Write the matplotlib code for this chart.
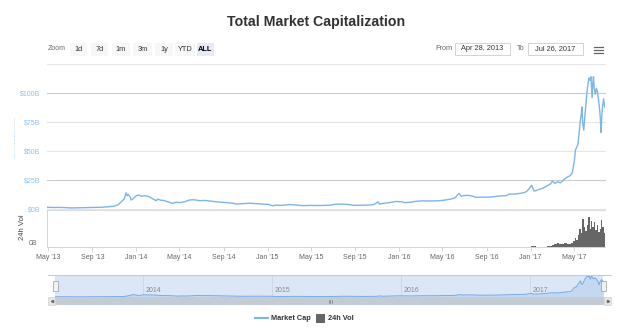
import matplotlib
matplotlib.use('Agg')
import matplotlib.pyplot as plt
import matplotlib.dates as mdates
from matplotlib.patches import Rectangle
from matplotlib.lines import Line2D
import numpy as np
import pandas as pd

plt.rcParams['font.family'] = ['Liberation Sans', 'DejaVu Sans']

# total market cap, $ billions
cap_dates = pd.to_datetime([
    '2013-04-28', '2013-05-15', '2013-06-01', '2013-06-20', '2013-07-05', '2013-07-25',
    '2013-08-15', '2013-09-05', '2013-09-25', '2013-10-15', '2013-11-01', '2013-11-12',
    '2013-11-20', '2013-11-28', '2013-12-04', '2013-12-07', '2013-12-10', '2013-12-15',
    '2013-12-18', '2013-12-22', '2013-12-27', '2014-01-02', '2014-01-08', '2014-01-15',
    '2014-01-25', '2014-02-05', '2014-02-12', '2014-02-20', '2014-02-26', '2014-03-02',
    '2014-03-10', '2014-03-20', '2014-04-01', '2014-04-12', '2014-04-22', '2014-05-02',
    '2014-05-15', '2014-05-30', '2014-06-10', '2014-06-26', '2014-07-10', '2014-08-01',
    '2014-08-18', '2014-09-09', '2014-09-25', '2014-10-06', '2014-10-20', '2014-11-12',
    '2014-12-01', '2014-12-19', '2015-01-05', '2015-01-14', '2015-01-25', '2015-02-10',
    '2015-03-03', '2015-03-20', '2015-04-08', '2015-05-01', '2015-05-16', '2015-06-05',
    '2015-06-22', '2015-07-10', '2015-07-25', '2015-08-16', '2015-08-25', '2015-09-04',
    '2015-09-25', '2015-10-11', '2015-10-25', '2015-11-04', '2015-11-08', '2015-11-20',
    '2015-12-06', '2015-12-24', '2016-01-10', '2016-01-16', '2016-02-01', '2016-02-18',
    '2016-03-05', '2016-03-17', '2016-04-13', '2016-05-01', '2016-05-24', '2016-06-05',
    '2016-06-16', '2016-06-22', '2016-06-28', '2016-07-10', '2016-07-25', '2016-08-02',
    '2016-08-15', '2016-08-30', '2016-09-20', '2016-10-06', '2016-10-25', '2016-11-02',
    '2016-11-20', '2016-12-10', '2016-12-20', '2016-12-28', '2017-01-04', '2017-01-11',
    '2017-01-18', '2017-01-25', '2017-02-05', '2017-02-16', '2017-02-25', '2017-03-03',
    '2017-03-10', '2017-03-17', '2017-03-25', '2017-04-01', '2017-04-10', '2017-04-20',
    '2017-04-27', '2017-05-03', '2017-05-06', '2017-05-10', '2017-05-13', '2017-05-16',
    '2017-05-19', '2017-05-22', '2017-05-24', '2017-05-26', '2017-05-29', '2017-06-01',
    '2017-06-04', '2017-06-07', '2017-06-10', '2017-06-12', '2017-06-15', '2017-06-18',
    '2017-06-21', '2017-06-23', '2017-06-25', '2017-06-27', '2017-06-30', '2017-07-03',
    '2017-07-06', '2017-07-09', '2017-07-12', '2017-07-14', '2017-07-16', '2017-07-18',
    '2017-07-20', '2017-07-23', '2017-07-26'])
cap_values = [
    1.55, 1.3, 1.4, 1.2, 0.9, 1.0,
    1.2, 1.4, 1.5, 1.9, 2.4, 3.8,
    6.0, 8.5, 14.0, 11.5, 12.5, 10.5,
    7.8, 8.5, 10.0, 11.5, 12.0, 11.0,
    11.5, 10.8, 9.5, 8.0, 7.2, 8.5,
    7.6, 7.2, 6.0, 4.9, 5.8, 5.5,
    6.2, 7.8, 8.0, 7.2, 7.4, 6.6,
    6.0, 5.5, 5.0, 4.3, 4.5, 5.0,
    4.6, 4.3, 3.9, 2.8, 3.3, 3.1,
    3.8, 3.5, 2.9, 3.1, 3.0, 3.1,
    3.3, 4.1, 4.3, 3.8, 3.2, 3.2,
    3.3, 3.4, 4.0, 6.2, 4.3, 4.9,
    5.5, 6.5, 6.2, 5.5, 5.8, 6.6,
    7.0, 6.9, 7.0, 7.4, 8.5, 9.5,
    13.5, 11.0, 11.5, 11.8, 11.0, 10.0,
    10.2, 10.2, 10.5, 11.2, 11.5, 12.8,
    12.9, 13.8, 14.8, 17.5, 20.5, 15.5,
    16.0, 17.0, 18.0, 20.0, 21.5, 24.0,
    22.0, 23.5, 22.5, 24.5, 27.0, 28.5,
    31.0, 42.0, 51.0, 54.0, 56.0, 66.0,
    75.0, 82.0, 88.0, 74.0, 68.0, 80.0,
    90.0, 102.0, 108.0, 113.0, 111.0, 114.0,
    96.0, 108.0, 114.0, 104.0, 99.0, 104.0,
    101.0, 94.0, 86.0, 78.0, 66.0, 80.0,
    88.0, 95.0, 88.0]

# 24h volume, $ billions
vol_dates = pd.to_datetime([
    '2013-05-01', '2013-06-01', '2013-07-01', '2013-08-01', '2013-09-01', '2013-10-01',
    '2013-11-01', '2013-12-01', '2014-01-01', '2014-02-01', '2014-03-01', '2014-04-01',
    '2014-05-01', '2014-06-01', '2014-07-01', '2014-08-01', '2014-09-01', '2014-10-01',
    '2014-11-01', '2014-12-01', '2015-01-01', '2015-02-01', '2015-03-01', '2015-04-01',
    '2015-05-01', '2015-06-01', '2015-07-01', '2015-08-01', '2015-09-01', '2015-10-01',
    '2015-11-01', '2015-12-01', '2016-01-01', '2016-02-01', '2016-03-01', '2016-04-01',
    '2016-05-01', '2016-06-01', '2016-07-01', '2016-08-01', '2016-09-01', '2016-10-01',
    '2016-11-01', '2016-12-01', '2017-01-01', '2017-01-15', '2017-02-01', '2017-02-15',
    '2017-03-01', '2017-03-08', '2017-03-15', '2017-03-22', '2017-03-29', '2017-04-05',
    '2017-04-12', '2017-04-18', '2017-04-24', '2017-04-29', '2017-05-04', '2017-05-08',
    '2017-05-12', '2017-05-16', '2017-05-20', '2017-05-24', '2017-05-29', '2017-06-02',
    '2017-06-06', '2017-06-10', '2017-06-14', '2017-06-18', '2017-06-22', '2017-06-26',
    '2017-06-30', '2017-07-04', '2017-07-08', '2017-07-12', '2017-07-16', '2017-07-20',
    '2017-07-24'])
vol_values = [
    0.02, 0.02, 0.02, 0.02, 0.02, 0.03,
    0.04, 0.08, 0.05, 0.04, 0.03, 0.03,
    0.03, 0.03, 0.02, 0.02, 0.02, 0.02,
    0.02, 0.02, 0.03, 0.02, 0.02, 0.02,
    0.02, 0.02, 0.03, 0.03, 0.02, 0.03,
    0.1, 0.05, 0.04, 0.04, 0.04, 0.04,
    0.06, 0.12, 0.08, 0.06, 0.05, 0.06,
    0.06, 0.08, 0.2, 0.12, 0.12, 0.18,
    0.6, 1.0, 1.2, 0.9, 1.1, 1.3,
    1.0, 1.1, 1.4, 2.0, 3.0, 2.3,
    4.0, 6.0, 4.5, 9.0, 6.5, 5.2,
    7.0, 9.7, 6.0, 8.5, 6.5, 8.0,
    5.5, 7.0, 5.0, 6.0, 8.7, 6.5,
    4.5]

y_ticks = [0, 25, 50, 75, 100]
y_labels = ['$0B', '$25B', '$50B', '$75B', '$100B']
zoom_buttons = ['1d', '7d', '1m', '3m', '1y', 'YTD', 'ALL']
nav_years = [2014, 2015, 2016, 2017]

W, H = 633, 331
BLUE = '#7cb5ec'


def rect(x0, y0, x1, y1):
    return [x0 / W, 1 - y1 / H, (x1 - x0) / W, (y1 - y0) / H]


def fy(y):
    return 1 - y / H


def box(x0, y0, x1, y1, **kw):
    fig.patches.append(Rectangle((x0 / W, fy(y1)), (x1 - x0) / W, (y1 - y0) / H,
                                 transform=fig.transFigure, **kw))


def hline(x0, x1, y, **kw):
    fig.lines.append(Line2D([x0 / W, x1 / W], [fy(y), fy(y)], transform=fig.transFigure, **kw))


x_start = pd.Timestamp('2013-04-28')
x_end = pd.Timestamp('2017-07-27')

fig = plt.figure(figsize=(W / 100, H / 100), dpi=100)

# title and range selector
fig.text(0.5, fy(22), 'Total Market Capitalization', ha='center', va='center',
         fontsize=10.2, color='#333333', fontweight='bold')
fig.text(48 / W, fy(49), 'Zoom', ha='left', va='center', fontsize=5, color='#666666')
btn_x = [70, 91, 112, 133, 155, 175, 197]
btn_w = [17, 17, 18, 19, 18, 20, 17]
for lbl, bx, bw in zip(zoom_buttons, btn_x, btn_w):
    sel = lbl == 'ALL'
    box(bx, 43, bx + bw, 56, facecolor='#e6ebf5' if sel else '#f7f7f7', edgecolor='none')
    fig.text((bx + bw / 2) / W, fy(49.5), lbl, ha='center', va='center', fontsize=5.3,
             color='#000000' if sel else '#333333', fontweight='bold' if sel else 'normal')
fig.text(452 / W, fy(49), 'From', ha='right', va='center', fontsize=5.3, color='#666666')
box(455, 43, 510, 55, facecolor='white', edgecolor='#cccccc', linewidth=0.6)
fig.text(482.5 / W, fy(49), 'Apr 28, 2013', ha='center', va='center', fontsize=5.3, color='#333333')
fig.text(524 / W, fy(49), 'To', ha='right', va='center', fontsize=5.3, color='#666666')
box(528, 43, 583, 55, facecolor='white', edgecolor='#cccccc', linewidth=0.6)
fig.text(555.5 / W, fy(49), 'Jul 26, 2017', ha='center', va='center', fontsize=5.3, color='#333333')
for yy in [46.5, 49.5, 52.5]:
    hline(594, 603, yy, color='#666666', linewidth=0.9)

# faint dotted mark on the far left
fig.lines.append(Line2D([14 / W, 14 / W], [fy(118), fy(158)], transform=fig.transFigure,
                        color='#a9cdef', linewidth=0.6, linestyle=':'))

# main price panel
ax = fig.add_axes(rect(47, 64, 605, 209))
for v in [0, 25, 50, 75, 100, 125]:
    c = '#cccccc' if v in (25, 100) else '#e6e6e6'
    ax.axhline(v, color=c, linewidth=0.8, zorder=0, clip_on=False)
ax.plot(cap_dates, cap_values, color=BLUE, linewidth=1.0, zorder=3)
ax.set_xlim(x_start, x_end)
ax.set_ylim(0, 125)
ax.set_xticks([])
ax.set_yticks(y_ticks)
ax.set_yticklabels(y_labels, color='#8fc0ee', fontsize=5)
ax.tick_params(axis='y', length=0, pad=5)
for s in ax.spines.values():
    s.set_visible(False)

# volume panel
axv = fig.add_axes(rect(47, 210, 605, 247))
widths = np.diff(mdates.date2num(vol_dates)).tolist() + [3]
axv.bar(vol_dates, vol_values, width=widths, align='edge', color='#666666', linewidth=0)
axv.set_xlim(x_start, x_end)
axv.set_ylim(0, 12)
axv.set_yticks([0])
axv.set_yticklabels(['0B'], color='#666666', fontsize=5)
for t in axv.get_yticklabels():
    t.set_va('bottom')
axv.tick_params(axis='y', length=0, pad=7)
axv.xaxis.set_major_locator(mdates.MonthLocator(bymonth=[1, 5, 9]))
axv.xaxis.set_major_formatter(mdates.DateFormatter("%b '%y"))
axv.tick_params(axis='x', direction='out', length=3, width=0.7, color='#ccd6eb',
                labelsize=5, labelcolor='#666666', pad=2)
axv.spines['right'].set_visible(False)
axv.spines['top'].set_color('#dddddd')
axv.spines['top'].set_linewidth(0.8)
axv.spines['left'].set_color('#ccd6eb')
axv.spines['bottom'].set_color('#ccd6eb')
axv.spines['left'].set_linewidth(0.7)
axv.spines['bottom'].set_linewidth(0.7)
fig.text(22.5 / W, fy(227.5), '24h Vol', rotation=90, ha='center', va='center',
         fontsize=5.5, color='#444444')

# navigator
hline(48, 611, 274.5, color='#cccccc', linewidth=0.8)
axn = fig.add_axes(rect(55, 275, 603, 297))
axn.set_facecolor('#dbe6f6')
for yr in nav_years:
    d = pd.Timestamp(f'{yr}-01-01')
    axn.axvline(d, color='#c8d3e3', linewidth=0.6, zorder=1)
    axn.text(d + pd.Timedelta(days=8), 0.12, str(yr), transform=axn.get_xaxis_transform(),
             fontsize=5, color='#8a8a8a', ha='left', va='bottom', zorder=2)
axn.fill_between(cap_dates, cap_values, color='#c5d8f1', zorder=2)
axn.plot(cap_dates, cap_values, color='#6fa6e2', linewidth=0.6, zorder=3)
axn.set_xlim(x_start, x_end)
axn.set_ylim(0, 120)
axn.set_xticks([])
axn.set_yticks([])
for s in axn.spines.values():
    s.set_visible(False)
for hx in [55, 603]:
    box(hx - 2.5, 281, hx + 2.5, 291, facecolor='#f2f2f2', edgecolor='#999999', linewidth=0.5)

# scrollbar
box(48, 297, 611, 305, facecolor='#f2f2f2', edgecolor='none')
box(55, 297, 604, 305, facecolor='#c3cbd5', edgecolor='none')
box(48, 297, 55, 305, facecolor='#e6e6e6', edgecolor='#cccccc', linewidth=0.4)
box(604, 297, 611, 305, facecolor='#e6e6e6', edgecolor='#cccccc', linewidth=0.4)
fig.lines.append(Line2D([51.5 / W], [fy(301)], transform=fig.transFigure, marker='<',
                        markersize=1.5, color='#666666', linestyle='none'))
fig.lines.append(Line2D([607.5 / W], [fy(301)], transform=fig.transFigure, marker='>',
                        markersize=1.5, color='#666666', linestyle='none'))
for gx in [328.5, 330, 331.5]:
    fig.lines.append(Line2D([gx / W, gx / W], [fy(299.5), fy(302.5)],
                            transform=fig.transFigure, color='#666666', linewidth=0.4))

# legend
hline(255, 268, 318, color=BLUE, linewidth=1.5)
fig.text(271 / W, fy(318), 'Market Cap', ha='left', va='center', fontsize=5.3,
         color='#333333', fontweight='bold')
box(316, 313.5, 325, 322.5, facecolor='#666666', edgecolor='none')
fig.text(328 / W, fy(318), '24h Vol', ha='left', va='center', fontsize=5.3,
         color='#333333', fontweight='bold')

fig.savefig('out.png', dpi=100)
